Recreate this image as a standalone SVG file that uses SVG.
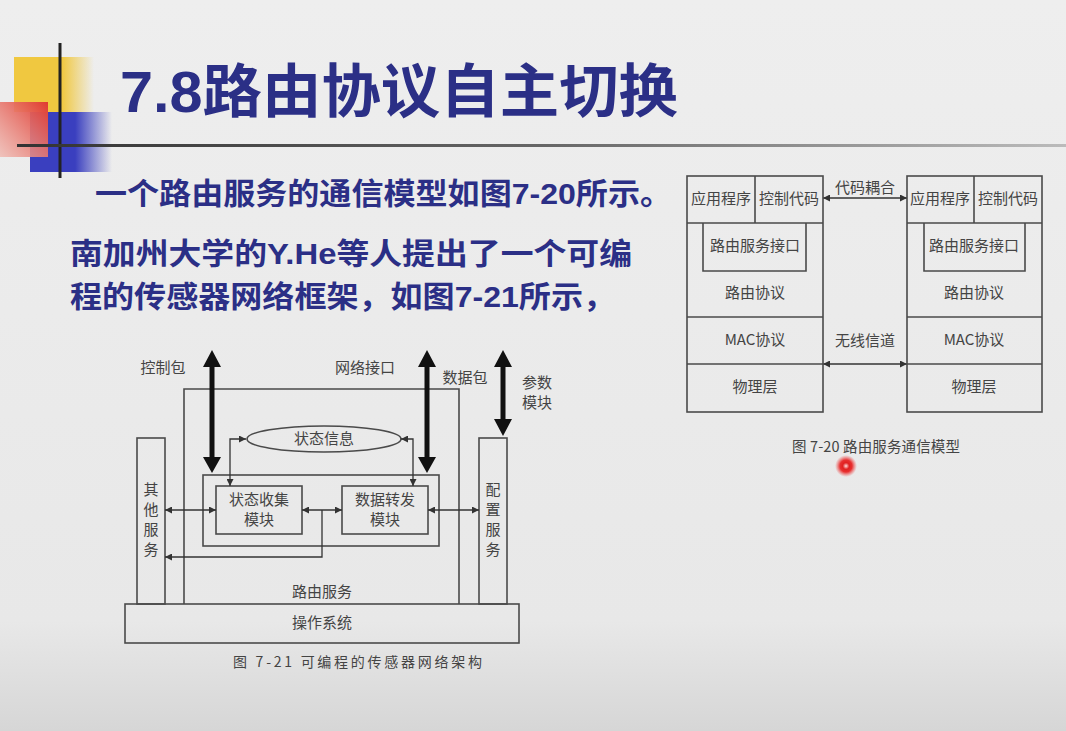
<svg xmlns="http://www.w3.org/2000/svg" width="1066" height="731" viewBox="0 0 1066 731">
<defs>
<linearGradient id="bg" x1="0" y1="0" x2="0" y2="1">
<stop offset="0" stop-color="#eeeeee"/><stop offset="0.85" stop-color="#e8e8e8"/><stop offset="1" stop-color="#d6d6d6"/>
</linearGradient>
<linearGradient id="yel" x1="0" y1="0" x2="1" y2="0">
<stop offset="0" stop-color="#f0c840"/><stop offset="0.6" stop-color="#f0c840"/><stop offset="1" stop-color="#f0c840" stop-opacity="0"/>
</linearGradient>
<linearGradient id="blu" x1="0" y1="0" x2="1" y2="0">
<stop offset="0" stop-color="#3a3fbf"/><stop offset="0.55" stop-color="#3a3fbf"/><stop offset="1" stop-color="#3a3fbf" stop-opacity="0"/>
</linearGradient>
<linearGradient id="red" x1="1" y1="0" x2="0" y2="1">
<stop offset="0" stop-color="#e03a30"/><stop offset="1" stop-color="#f0b8b0" stop-opacity="0.8"/>
</linearGradient>
<linearGradient id="rule" x1="0" y1="0" x2="1" y2="0">
<stop offset="0" stop-color="#333333"/><stop offset="0.5" stop-color="#666666"/><stop offset="1" stop-color="#bbbbbb"/>
</linearGradient>
<radialGradient id="laser">
<stop offset="0" stop-color="#ffdede"/><stop offset="0.3" stop-color="#e02020"/><stop offset="0.55" stop-color="#e83030"/><stop offset="1" stop-color="#f06060" stop-opacity="0"/>
</radialGradient>
<marker id="ah" viewBox="0 0 10 10" refX="10" refY="5" markerWidth="8" markerHeight="7" markerUnits="userSpaceOnUse" orient="auto-start-reverse">
<path d="M0,0 L10,5 L0,10 Z" fill="#333"/>
</marker>
<style>
.ln{fill:none;stroke:#4a4a4a;stroke-width:1.6}
.bx{fill:none;stroke:#4a4a4a;stroke-width:1.6}
.cn{fill:none;stroke:#333;stroke-width:1.3}
.t{font-family:"Noto Sans CJK SC",sans-serif;fill:#444;text-anchor:middle}
.s15{font-size:15px}
.h{font-family:"Liberation Sans","Noto Sans CJK SC",sans-serif;font-weight:bold;fill:#2b2f86}
.thick{fill:#111}
</style>
</defs>
<rect width="1066" height="731" fill="url(#bg)"/>

<!-- logo -->
<g id="logo">
<rect x="14" y="57" width="80" height="55" fill="url(#yel)"/>
<rect x="30" y="112" width="82" height="60" fill="url(#blu)"/>
<rect x="0" y="102" width="48" height="55" fill="url(#red)"/>
<line x1="60" y1="43" x2="60" y2="178" stroke="#222" stroke-width="3"/>
<rect x="17" y="144" width="1049" height="3" fill="url(#rule)"/>
</g>

<text class="h" x="120" y="112" font-size="58" textLength="558" lengthAdjust="spacingAndGlyphs">7.8路由协议自主切换</text>
<text class="h" x="95" y="204" font-size="30" textLength="577" lengthAdjust="spacingAndGlyphs">一个路由服务的通信模型如图7-20所示。</text>
<text class="h" x="70" y="264" font-size="30" textLength="562" lengthAdjust="spacingAndGlyphs">南加州大学的Y.He等人提出了一个可编</text>
<text class="h" x="70" y="307" font-size="30" textLength="545" lengthAdjust="spacingAndGlyphs">程的传感器网络框架，如图7-21所示，</text>

<!-- Figure 7-21 -->
<g id="routing-service">
<path class="ln" d="M184,604 V389 H459 V604"/>
<text class="t s15" x="322" y="597">路由服务</text>
</g>
<g id="other-services">
<rect class="bx" x="137" y="438" width="28" height="166"/>
<text class="t s15" x="151" y="495">其</text>
<text class="t s15" x="151" y="515">他</text>
<text class="t s15" x="151" y="535">服</text>
<text class="t s15" x="151" y="555">务</text>
</g>
<g id="config-service">
<rect class="bx" x="479" y="438" width="28" height="166"/>
<text class="t s15" x="493" y="495">配</text>
<text class="t s15" x="493" y="515">置</text>
<text class="t s15" x="493" y="535">服</text>
<text class="t s15" x="493" y="555">务</text>
</g>
<g id="os">
<rect class="bx" x="125" y="604" width="394" height="39"/>
<text class="t s15" x="322" y="628">操作系统</text>
</g>
<g id="inner-box">
<rect class="bx" x="203" y="475" width="236" height="71"/>
</g>
<g id="state-collect">
<rect class="bx" x="216" y="486" width="86" height="48"/>
<text class="t s15" x="259" y="505">状态收集</text>
<text class="t s15" x="259" y="525">模块</text>
</g>
<g id="data-forward">
<rect class="bx" x="342" y="486" width="86" height="48"/>
<text class="t s15" x="385" y="505">数据转发</text>
<text class="t s15" x="385" y="525">模块</text>
</g>
<g id="state-info">
<ellipse class="bx" cx="324" cy="439" rx="77" ry="13"/>
<text class="t s15" x="324" y="444">状态信息</text>
</g>
<text class="t s15" x="163" y="373">控制包</text>
<text class="t s15" x="365" y="373">网络接口</text>
<text class="t s15" x="465" y="383">数据包</text>
<text class="t s15" x="537" y="388">参数</text>
<text class="t s15" x="537" y="408">模块</text>
<text class="t" x="233" y="667" font-size="14" style="text-anchor:start" textLength="249" lengthAdjust="spacing">图 7-21 可编程的传感器网络架构</text>

<g id="connectors">
<!-- thick double arrows -->
<path class="thick" d="M212,350 L221,367 L214.5,367 L214.5,457 L221,457 L212,473 L203,457 L209.5,457 L209.5,367 L203,367 Z"/>
<path class="thick" d="M427,350 L436,367 L429.5,367 L429.5,457 L436,457 L427,473 L418,457 L424.5,457 L424.5,367 L418,367 Z"/>
<path class="thick" d="M503,350 L512,367 L505.5,367 L505.5,419 L512,419 L503,436 L494,419 L500.5,419 L500.5,367 L494,367 Z"/>
<!-- thin -->
<path class="cn" d="M246,439 H230 V486" marker-start="url(#ah)" marker-end="url(#ah)"/>
<path class="cn" d="M401,439 H413 V486" marker-start="url(#ah)" marker-end="url(#ah)"/>
<path class="cn" d="M165,510 H216" marker-start="url(#ah)" marker-end="url(#ah)"/>
<path class="cn" d="M302,510 H342" marker-start="url(#ah)" marker-end="url(#ah)"/>
<path class="cn" d="M322,510 V557 H165" marker-end="url(#ah)"/>
<path class="cn" d="M428,510 H479" marker-start="url(#ah)" marker-end="url(#ah)"/>
<!-- fig 7-20 -->
<path class="cn" d="M823,198 H907" marker-start="url(#ah)" marker-end="url(#ah)"/>
<path class="cn" d="M823,364 H907" marker-start="url(#ah)" marker-end="url(#ah)"/>
</g>

<!-- Figure 7-20 -->
<g id="node-left">
<rect class="bx" x="687" y="176" width="136" height="236"/>
<line class="ln" x1="687" y1="223" x2="823" y2="223"/>
<line class="ln" x1="755" y1="176" x2="755" y2="223"/>
<path class="ln" d="M703,223 V271 H806 V223"/>
<line class="ln" x1="687" y1="317" x2="823" y2="317"/>
<line class="ln" x1="687" y1="364" x2="823" y2="364"/>
<text class="t s15" x="721" y="204">应用程序</text>
<text class="t s15" x="789" y="204">控制代码</text>
<text class="t s15" x="755" y="251">路由服务接口</text>
<text class="t s15" x="755" y="298">路由协议</text>
<text class="t s15" x="755" y="345">MAC协议</text>
<text class="t s15" x="755" y="392">物理层</text>
</g>
<g id="node-right">
<rect class="bx" x="907" y="176" width="135" height="236"/>
<line class="ln" x1="907" y1="223" x2="1042" y2="223"/>
<line class="ln" x1="974" y1="176" x2="974" y2="223"/>
<path class="ln" d="M924,223 V271 H1025 V223"/>
<line class="ln" x1="907" y1="317" x2="1042" y2="317"/>
<line class="ln" x1="907" y1="364" x2="1042" y2="364"/>
<text class="t s15" x="940" y="204">应用程序</text>
<text class="t s15" x="1008" y="204">控制代码</text>
<text class="t s15" x="974" y="251">路由服务接口</text>
<text class="t s15" x="974" y="298">路由协议</text>
<text class="t s15" x="974" y="345">MAC协议</text>
<text class="t s15" x="974" y="392">物理层</text>
</g>
<text class="t s15" x="865" y="193">代码耦合</text>
<text class="t s15" x="865" y="346">无线信道</text>
<text class="t" x="792" y="452" font-size="14.5" style="text-anchor:start" textLength="168" lengthAdjust="spacing">图 7-20 路由服务通信模型</text>

<circle cx="846" cy="466" r="11" fill="url(#laser)"/>
</svg>
